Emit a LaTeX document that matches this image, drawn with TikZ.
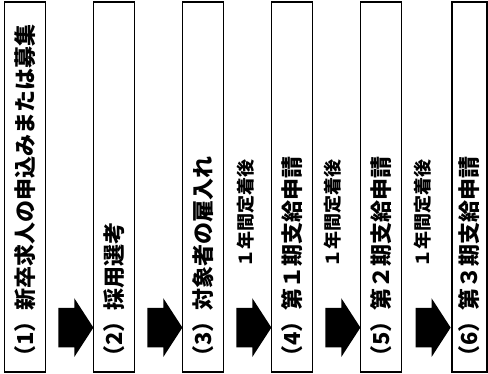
\documentclass[tikz,border=0pt]{standalone}
\usepackage{fontspec}
\newfontfamily\jpfont{Noto Sans CJK JP}
\usepackage{tikz}
\usetikzlibrary{calc,shapes.arrows}

\newcommand{\steptext}[1]{\rotatebox{90}{\makebox[362pt][l]{#1}}}

\begin{document}
\begin{tikzpicture}[x=1pt, y=1pt,
  stepbox/.style={draw=black, line width=1.2pt, minimum width=41pt,
    minimum height=370pt, inner sep=0pt, font=\jpfont\bfseries\fontsize{22}{22}\selectfont},
  nextarrow/.style={single arrow, fill=black, inner xsep=0pt, inner ysep=19.5pt,
    minimum height=35pt, single arrow head extend=9.5pt, single arrow tip angle=114},
  periodlabel/.style={anchor=south, inner sep=0pt, font=\jpfont\bfseries\fontsize{18}{18}\selectfont}]

  \useasboundingbox (0,0) rectangle (488,374);

  \node[stepbox] (s1) at (25,187) {\steptext{（1）新卒求人の申込みまたは募集}};
  \node[stepbox] (s2) at (114,187) {\steptext{（2）採用選考}};
  \node[stepbox] (s3) at (203,187) {\steptext{（3）対象者の雇入れ}};
  \node[stepbox] (s4) at (292,187) {\steptext{（4）第１期支給申請}};
  \node[stepbox] (s5) at (381,187) {\steptext{（5）第２期支給申請}};
  \node[stepbox, minimum width=35pt] (s6) at (469.5,187) {\steptext{（6）第３期支給申請}};

  \node[nextarrow] (a1) at ($(s1.south east)!.5!(s2.south west) + (0,45)$) {};
  \node[nextarrow] (a2) at ($(s2.south east)!.5!(s3.south west) + (0,45)$) {};
  \node[nextarrow] (a3) at ($(s3.south east)!.5!(s4.south west) + (0,45)$) {};
  \node[nextarrow] (a4) at ($(s4.south east)!.5!(s5.south west) + (0,45)$) {};
  \node[nextarrow] (a5) at ($(s5.south east)!.5!(s6.south west) + (0,45)$) {};

  \node[periodlabel] (p3) at ([xshift=-2pt, yshift=40pt]a3.north) {\rotatebox{90}{１年間定着後}};
  \node[periodlabel] (p4) at ([xshift=-4pt, yshift=40pt]a4.north) {\rotatebox{90}{１年間定着後}};
  \node[periodlabel] (p5) at ([xshift=-4pt, yshift=40pt]a5.north) {\rotatebox{90}{１年間定着後}};

\end{tikzpicture}
\end{document}
